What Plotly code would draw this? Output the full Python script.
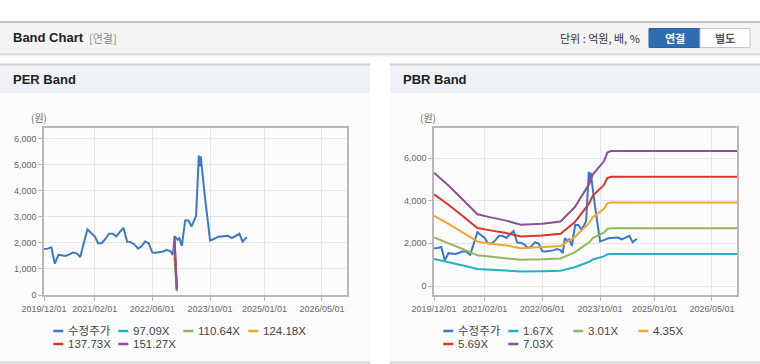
import plotly.graph_objects as go

W, H = 760, 364

# ---------------- data ----------------
price_dates = [
    "2019-12-01", "2020-01-01", "2020-02-01", "2020-03-01", "2020-04-01", "2020-05-01",
    "2020-06-01", "2020-07-01", "2020-08-01", "2020-09-01", "2020-10-01", "2020-11-01",
    "2020-12-01", "2021-01-01", "2021-02-01", "2021-03-01", "2021-04-01", "2021-05-01",
    "2021-06-01", "2021-07-01", "2021-08-01", "2021-09-01", "2021-10-01", "2021-11-01",
    "2021-12-01", "2022-01-01", "2022-02-01", "2022-03-01", "2022-04-01", "2022-05-01",
    "2022-06-01", "2022-07-01", "2022-08-01", "2022-09-01", "2022-10-01", "2022-11-01",
    "2022-11-20", "2022-12-08", "2023-01-01", "2023-01-15", "2023-02-05", "2023-03-05",
    "2023-04-01", "2023-04-28", "2023-06-05", "2023-06-28", "2023-07-05", "2023-07-14",
    "2023-08-18", "2023-10-01", "2023-11-01", "2023-12-10", "2024-01-01", "2024-02-01",
    "2024-03-01", "2024-04-01", "2024-05-01", "2024-06-04", "2024-07-01", "2024-08-06",
]
price_values = [
    1770, 1780, 1830, 1200, 1540, 1530,
    1500, 1560, 1630, 1600, 1460, 2000,
    2520, 2380, 2250, 1990, 1990, 2150,
    2350, 2350, 2250, 2420, 2580, 2040,
    2030, 1940, 1780, 1870, 2050, 1990,
    1630, 1620, 1640, 1670, 1730, 1680,
    1540, 2240, 2115, 2180, 1885, 2860,
    2860, 2630, 3040, 5350, 4940, 5320,
    3780, 2090, 2150, 2240, 2250, 2260,
    2270, 2180, 2260, 2350, 2050, 2220,
]

per_band_dates = ["2022-12-05", "2022-12-25"]
per_band_names = ["97.09X", "110.64X", "124.18X", "137.73X", "151.27X"]
per_band_1 = [1457, 146]
per_band_2 = [1660, 166]
per_band_3 = [1863, 186]
per_band_4 = [2066, 207]
per_band_5 = [2270, 227]

pbr_band_dates = [
    "2019-12-01", "2020-04-01", "2020-08-01", "2020-12-01", "2021-04-01", "2021-08-01",
    "2021-12-01", "2022-06-01", "2022-11-01", "2023-03-01", "2023-07-01", "2023-08-01",
    "2023-11-01", "2023-12-01", "2024-01-01", "2026-11-28",
]
pbr_band_names = ["1.67X", "3.01X", "4.35X", "5.69X", "7.03X"]
pbr_band_1 = [1261, 1119, 960, 798, 762, 728, 681, 695, 718, 877, 1136, 1244, 1386, 1486, 1503, 1503]
pbr_band_2 = [2273, 2017, 1731, 1439, 1373, 1312, 1228, 1252, 1294, 1580, 2047, 2242, 2498, 2679, 2709, 2709]
pbr_band_3 = [3284, 2915, 2501, 2079, 1984, 1897, 1775, 1810, 1871, 2284, 2958, 3241, 3611, 3872, 3915, 3915]
pbr_band_4 = [4296, 3812, 3272, 2720, 2595, 2481, 2322, 2367, 2447, 2987, 3869, 4239, 4723, 5064, 5121, 5121]
pbr_band_5 = [5308, 4710, 4042, 3360, 3206, 3065, 2868, 2924, 3023, 3691, 4780, 5237, 5835, 6257, 6327, 6327]

price_name = "수정주가"
x_tick_dates = ["2019-12-01", "2021-02-01", "2022-06-01", "2023-10-01", "2025-01-01", "2026-05-01"]
x_tick_labels = ["2019/12/01", "2021/02/01", "2022/06/01", "2023/10/01", "2025/01/01", "2026/05/01"]
x_range = ["2019-12-01", "2026-11-28"]
per_y_ticks = [0, 1000, 2000, 3000, 4000, 5000, 6000]
pbr_y_ticks = [0, 2000, 4000, 6000]

# ---------------- styles ----------------
price_color = "#3a78cc"
band_colors = ["#22b2c2", "#8fb85a", "#f4a62a", "#d8352c", "#8d4f9d"]

def px(x):
    return x / W

def py(y):
    return 1 - y / H

fig = go.Figure()

# PER panel
fig.add_trace(go.Scatter(x=price_dates, y=price_values, mode="lines", name=price_name,
                         line=dict(color=price_color, width=2), xaxis="x", yaxis="y",
                         showlegend=False, hoverinfo="skip"))
for name, vals, col in zip(per_band_names, [per_band_1, per_band_2, per_band_3, per_band_4, per_band_5], band_colors):
    fig.add_trace(go.Scatter(x=per_band_dates, y=vals, mode="lines", name=name,
                             line=dict(color=col, width=2), xaxis="x", yaxis="y",
                             showlegend=False, hoverinfo="skip"))

# PBR panel
fig.add_trace(go.Scatter(x=price_dates, y=price_values, mode="lines", name=price_name,
                         line=dict(color=price_color, width=2), xaxis="x2", yaxis="y2",
                         showlegend=False, hoverinfo="skip"))
for name, vals, col in zip(pbr_band_names, [pbr_band_1, pbr_band_2, pbr_band_3, pbr_band_4, pbr_band_5], band_colors):
    fig.add_trace(go.Scatter(x=pbr_band_dates, y=vals, mode="lines", name=name,
                             line=dict(color=col, width=2), xaxis="x2", yaxis="y2",
                             showlegend=False, hoverinfo="skip"))

tick_font = dict(family="Liberation Sans, Arial, sans-serif", size=9, color="#666")
axis_line = "#b8b8b8"
grid = "#e6e6e6"

def xaxis(domain, anchor):
    return dict(domain=domain, anchor=anchor, type="date", range=x_range,
                tickmode="array", tickvals=x_tick_dates, ticktext=x_tick_labels,
                showgrid=True, gridcolor=grid, gridwidth=1, zeroline=False,
                showline=True, mirror=True, linecolor=axis_line, linewidth=1.5,
                ticks="outside", ticklen=4, tickcolor=axis_line, tickfont=tick_font,
                fixedrange=True, automargin=False)

def yaxis(domain, anchor, rng, ticks):
    return dict(domain=domain, anchor=anchor, range=rng, tickmode="array", tickvals=ticks,
                tickformat=",", showgrid=True, gridcolor=grid, gridwidth=1, zeroline=False,
                showline=True, mirror=True, linecolor=axis_line, linewidth=1.5,
                ticks="outside", ticklen=4, tickcolor=axis_line, tickfont=tick_font,
                fixedrange=True, automargin=False)

y_dom = [py(295), py(128)]
per_x = [px(44), px(347)]
pbr_x = [px(434), px(737)]

shapes = []
annotations = []

# header
shapes.append(dict(type="rect", xref="paper", yref="paper", x0=0, x1=1, y0=py(53), y1=py(23),
                   fillcolor="#f4f4f4", line=dict(width=0), layer="below"))
shapes.append(dict(type="line", xref="paper", yref="paper", x0=0, x1=1, y0=py(22), y1=py(22),
                   line=dict(color="#c2c2c2", width=2), layer="below"))
shapes.append(dict(type="line", xref="paper", yref="paper", x0=0, x1=1, y0=py(54), y1=py(54),
                   line=dict(color="#d4d4d4", width=1.5), layer="below"))
shapes.append(dict(type="line", xref="paper", yref="paper", x0=0, x1=1, y0=py(55.5), y1=py(55.5),
                   line=dict(color="#ececec", width=1.5), layer="below"))
annotations.append(dict(text="<b>Band Chart</b>", x=px(11), y=py(38), xref="paper", yref="paper",
                        xanchor="left", yanchor="middle", showarrow=False,
                        font=dict(family="Liberation Sans, Arial", size=13, color="#222")))
annotations.append(dict(text="[연결]", x=px(87), y=py(38), xref="paper", yref="paper",
                        xanchor="left", yanchor="middle", showarrow=False,
                        font=dict(family="Noto Sans CJK KR", size=11, color="#8a8a8a")))
annotations.append(dict(text="단위 : 억원, 배, %", x=px(642), y=py(38), xref="paper", yref="paper",
                        xanchor="right", yanchor="middle", showarrow=False,
                        font=dict(family="Noto Sans CJK KR", size=11, color="#333")))
# buttons
shapes.append(dict(type="rect", xref="paper", yref="paper", x0=px(649), x1=px(700), y0=py(47.5), y1=py(28.5),
                   fillcolor="#2f6db3", line=dict(color="#2a62a2", width=1), layer="below"))
shapes.append(dict(type="rect", xref="paper", yref="paper", x0=px(700), x1=px(750), y0=py(47.5), y1=py(28.5),
                   fillcolor="#ffffff", line=dict(color="#c6c6c6", width=1), layer="below"))
annotations.append(dict(text="<b>연결</b>", x=px(674.5), y=py(38), xref="paper", yref="paper",
                        xanchor="center", yanchor="middle", showarrow=False,
                        font=dict(family="Noto Sans CJK KR", size=11, color="#ffffff")))
annotations.append(dict(text="<b>별도</b>", x=px(725), y=py(38), xref="paper", yref="paper",
                        xanchor="center", yanchor="middle", showarrow=False,
                        font=dict(family="Noto Sans CJK KR", size=11, color="#555")))

# panels
for x0, x1, title in [(0, 370, "PER Band"), (390, 760, "PBR Band")]:
    shapes.append(dict(type="rect", xref="paper", yref="paper", x0=px(x0), x1=px(x1), y0=py(362), y1=py(93),
                       fillcolor="#fcfcfc", line=dict(width=0), layer="below"))
    shapes.append(dict(type="rect", xref="paper", yref="paper", x0=px(x0), x1=px(x1), y0=py(93), y1=py(64),
                       fillcolor="#eef1f6", line=dict(width=0), layer="below"))
    shapes.append(dict(type="line", xref="paper", yref="paper", x0=px(x0), x1=px(x1), y0=py(64.5), y1=py(64.5),
                       line=dict(color="#cfcfcf", width=2), layer="below"))
    shapes.append(dict(type="line", xref="paper", yref="paper", x0=px(x0), x1=px(x1), y0=py(362.5), y1=py(362.5),
                       line=dict(color="#d6d6d6", width=2), layer="below"))
    annotations.append(dict(text="<b>" + title + "</b>", x=px(x0 + 11), y=py(79.5), xref="paper", yref="paper",
                            xanchor="left", yanchor="middle", showarrow=False,
                            font=dict(family="Liberation Sans, Arial", size=13, color="#222")))

# unit labels
for xc in [39, 428]:
    annotations.append(dict(text="(원)", x=px(xc), y=py(118), xref="paper", yref="paper",
                            xanchor="center", yanchor="middle", showarrow=False,
                            font=dict(family="Noto Sans CJK KR", size=10, color="#666")))

# custom legends
legend_font = dict(family="Liberation Sans, Arial, Noto Sans CJK KR", size=11.5, color="#444")
for plot_left, names in [(44, [price_name] + per_band_names), (434, [price_name] + pbr_band_names)]:
    colors = [price_color] + band_colors
    for i, (name, col) in enumerate(zip(names, colors)):
        c, r = i % 4, i // 4
        x0 = plot_left + 9.3 + 65 * c
        yy = 331 if r == 0 else 344
        shapes.append(dict(type="line", xref="paper", yref="paper", x0=px(x0), x1=px(x0 + 10),
                           y0=py(yy), y1=py(yy), line=dict(color=col, width=2.5)))
        annotations.append(dict(text=name, x=px(x0 + 13), y=py(yy), xref="paper", yref="paper",
                                xanchor="left", yanchor="middle", showarrow=False, font=legend_font))

fig.update_layout(
    width=W, height=H,
    margin=dict(l=0, r=0, t=0, b=0, pad=0, autoexpand=False),
    paper_bgcolor="#ffffff", plot_bgcolor="#ffffff",
    xaxis=xaxis(per_x, "y"),
    yaxis=yaxis(y_dom, "x", [0, 6410], per_y_ticks),
    xaxis2=xaxis(pbr_x, "y2"),
    yaxis2=yaxis(y_dom, "x2", [-422, 7407], pbr_y_ticks),
    shapes=shapes,
    annotations=annotations,
    showlegend=False,
    hovermode=False,
)

fig.write_html(
    "out.html",
    config=dict(displayModeBar=False),
    post_script="document.body.style.margin='0px';document.body.style.overflow='hidden';",
)
